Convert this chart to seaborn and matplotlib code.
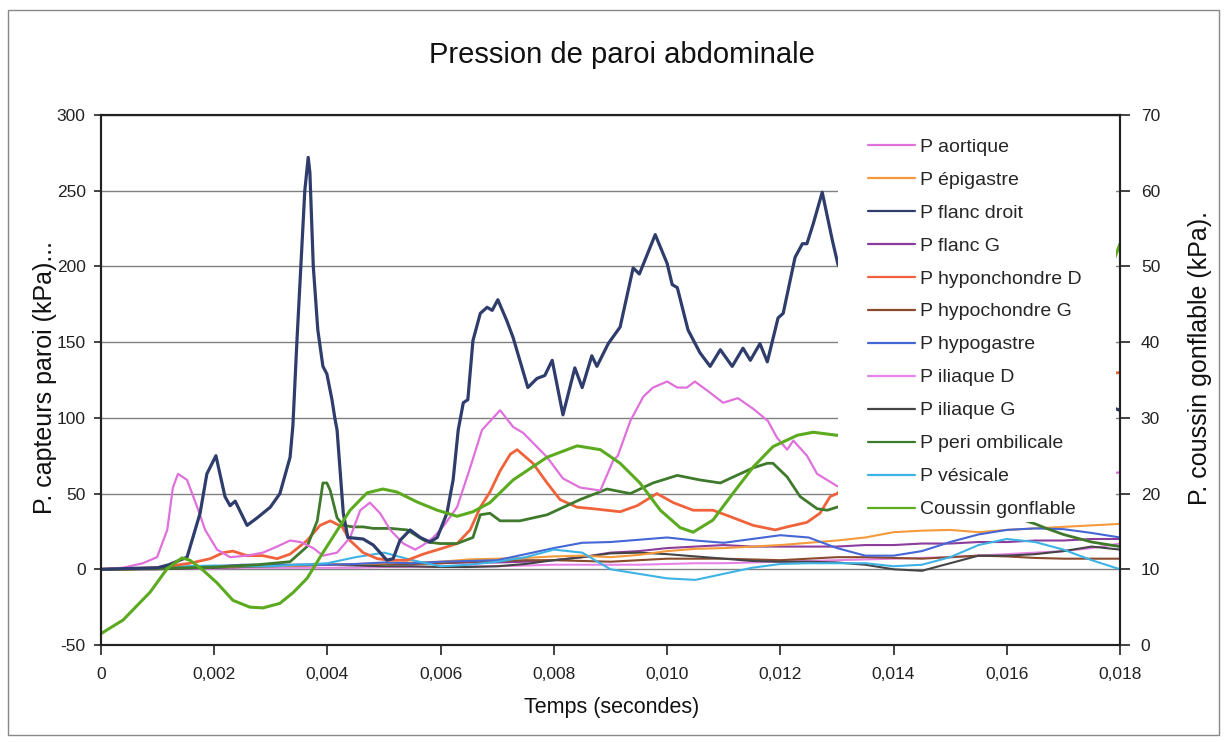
import numpy as np
import pandas as pd
import matplotlib
matplotlib.use("Agg")
import matplotlib.pyplot as plt
from matplotlib.lines import Line2D
from matplotlib.patches import Rectangle
from matplotlib.ticker import FixedLocator, FuncFormatter
import seaborn as sns

# ---- data (time in ms, pressure in kPa) ----
# common time grid for the low-amplitude sensors
t_grid_ms = [0, 0.5, 1, 1.5, 2, 2.5, 3, 3.5, 4, 4.5, 5, 5.5, 6, 6.5, 7, 7.5, 8, 8.5,
             9, 9.5, 10, 10.5, 11, 11.5, 12, 12.5, 13, 13.5, 14, 14.5, 15, 15.5,
             16, 16.5, 17, 17.5, 18]

p_epigastre = [0, 0, 0.5, 1, 1.5, 2, 2, 2.5, 3, 3.5, 4, 4.5, 5, 6.5, 7, 7.5, 8.5, 9,
               8, 9.5, 12, 13.5, 14, 15, 16, 17.5, 19, 21, 24.5, 25.5, 26, 24.5, 26,
               27, 28, 29, 30]
p_flanc_g = [0, 0.5, 1, 1.5, 2, 2, 2.5, 2.5, 3, 3, 3.5, 4, 4, 4.5, 4.5, 5, 6, 8, 11,
             12, 14, 15, 16, 15, 15, 15, 15, 16, 16, 17, 17, 18, 18, 19, 19, 20, 20]
p_hypochondre_g = [0, 0, 0.5, 1, 1.5, 2, 2.5, 3, 3, 3, 3.5, 3.5, 4, 5, 5.5, 6, 6, 5.5,
                   5, 6, 7, 7, 7, 6.5, 6, 7, 8, 8, 7.5, 7, 8, 9, 8.5, 7.5, 7, 7, 7]
p_hypogastre = [0, 0.5, 1, 1.5, 2, 3, 3, 3, 3, 3.5, 4.5, 4, 5, 5.5, 6, 10, 14, 17.5,
                18, 19.5, 21, 19, 17.5, 20, 22.5, 21, 14, 9, 9, 12, 18, 23, 26, 27,
                26.5, 24, 21]
p_iliaque_g = [0, 0, 0, 0.5, 1, 1.5, 2, 2.5, 3, 2.5, 2, 2, 1.5, 1.5, 2, 3.5, 6, 8,
               10.5, 11, 10, 8.5, 7, 5.5, 5, 5, 4.5, 3, 0, -1, 4, 9, 9, 10, 12, 15, 13]
p_vesicale = [0, 0.5, 1, 2, 2.5, 2, 2, 3, 4, 8, 11, 6, 2, 3, 5, 8, 13, 11, 0, -3,
              -6, -7, -3, 1, 3.5, 4, 4, 4, 2, 3, 8, 16, 20, 18, 13, 6, 0]
p_iliaque_d = [0, 0, 0, 0.5, 0.5, 1, 1, 1, 1, 1, 1.5, 1.5, 1.5, 2, 2, 2.5, 3, 3, 3,
               3, 3.5, 4, 4, 4.5, 5, 5.5, 6, 6.5, 7, 7.5, 8, 9, 10, 11, 12, 14, 17]

# high-amplitude sensors, own time points
t_flanc_droit_ms = [0, 1.0, 1.2, 1.52, 1.75, 1.87, 2.03, 2.19, 2.28, 2.37, 2.58, 2.76,
                    2.99, 3.16, 3.34, 3.39, 3.46, 3.53, 3.6, 3.66, 3.69, 3.75, 3.83,
                    3.92, 3.99, 4.08, 4.13, 4.17, 4.28, 4.36, 4.63, 4.81, 5.05, 5.16,
                    5.28, 5.46, 5.64, 5.81, 5.94, 6.11, 6.22, 6.31, 6.40, 6.48, 6.57,
                    6.70, 6.82, 6.91, 7.01, 7.17, 7.28, 7.54, 7.70, 7.84, 7.97, 8.16,
                    8.37, 8.50, 8.67, 8.76, 8.96, 9.17, 9.40, 9.51, 9.79, 10.0, 10.09,
                    10.18, 10.37, 10.58, 10.76, 10.94, 11.15, 11.34, 11.47, 11.64,
                    11.77, 11.96, 12.05, 12.26, 12.39, 12.47, 12.58, 12.74, 12.92,
                    13.02, 13.5, 14, 15, 16, 17, 18]
p_flanc_droit = [0, 1, 3, 8, 37, 63, 75, 48, 42, 45, 29, 34, 41, 50, 74, 95, 150, 200,
                 250, 272, 262, 200, 158, 134, 129, 112, 100, 92, 37, 21, 20, 16, 6, 7,
                 19, 26, 21, 18, 21, 37, 59, 92, 110, 112, 151, 169, 173, 171, 178, 164,
                 153, 120, 126, 128, 138, 102, 133, 120, 141, 134, 149, 160, 199, 195,
                 221, 202, 188, 186, 158, 143, 134, 145, 134, 146, 138, 149, 137, 166,
                 169, 206, 215, 215, 228, 249, 217, 201, 185, 170, 150, 135, 118, 105]

t_aortique_ms = [0, 0.39, 0.74, 0.99, 1.17, 1.27, 1.36, 1.52, 1.70, 1.84, 2.05, 2.28,
                 2.58, 2.86, 3.11, 3.34, 3.52, 3.75, 3.92, 4.17, 4.40, 4.58, 4.75, 4.93,
                 5.11, 5.34, 5.55, 5.69, 5.87, 6.04, 6.29, 6.52, 6.73, 7.05, 7.28, 7.46,
                 7.88, 8.16, 8.46, 8.82, 9.05, 9.13, 9.35, 9.58, 9.75, 10.0, 10.18,
                 10.35, 10.49, 10.71, 10.99, 11.25, 11.52, 11.78, 11.94, 12.12, 12.23,
                 12.47, 12.65, 13.0, 13.5, 14, 15, 16, 17, 18]
p_aortique = [0, 1, 4, 8, 26, 54, 63, 59, 41, 26, 13, 8, 9, 11, 15, 19, 18, 14, 9, 11,
              21, 39, 44, 37, 26, 17, 13, 16, 21, 28, 41, 67, 92, 105, 94, 90, 74, 60,
              54, 52, 72, 75, 98, 114, 120, 124, 120, 120, 124, 118, 110, 113, 106, 98,
              87, 79, 85, 75, 63, 55, 50, 48, 50, 55, 60, 64]

t_hyponchondre_d_ms = [0, 0.99, 1.57, 1.93, 2.16, 2.33, 2.58, 2.86, 3.11, 3.34, 3.64,
                       3.87, 4.05, 4.26, 4.40, 4.63, 4.88, 5.11, 5.41, 5.69, 6.04, 6.29,
                       6.52, 6.70, 6.87, 7.05, 7.23, 7.35, 7.63, 7.88, 8.11, 8.41, 8.69,
                       9.17, 9.47, 9.82, 10.11, 10.46, 10.81, 11.17, 11.52, 11.91, 12.12,
                       12.47, 12.70, 12.88, 13.0, 13.5, 14, 15, 16, 17, 18]
p_hyponchondre_d = [0, 1, 4, 7, 11, 12, 9, 9, 7, 10, 19, 29, 32, 28, 19, 11, 7, 6, 6,
                    10, 14, 17, 26, 41, 51, 65, 76, 79, 70, 57, 46, 41, 40, 38, 42, 50,
                    44, 39, 39, 34, 29, 26, 28, 31, 37, 48, 50, 65, 80, 100, 115, 125,
                    130]

t_peri_ombilicale_ms = [0, 1, 2, 2.76, 3.34, 3.64, 3.82, 3.92, 3.99, 4.05, 4.17, 4.28,
                        4.45, 4.63, 4.81, 5.11, 5.41, 5.58, 5.76, 5.99, 6.29, 6.57,
                        6.70, 6.87, 7.05, 7.40, 7.88, 8.46, 8.94, 9.35, 9.75, 10.18,
                        10.58, 10.94, 11.17, 11.52, 11.77, 11.87, 12.12, 12.35, 12.65,
                        12.83, 13.0, 13.5, 14, 15, 16, 16.5, 16.7, 17, 17.5, 18]
p_peri_ombilicale = [0, 0.5, 1.5, 3, 5, 15, 32, 57, 57, 52, 34, 29, 28, 28, 27, 27, 26,
                     22, 18, 17, 17, 21, 36, 37, 32, 32, 36, 46, 53, 50, 57, 62, 59, 57,
                     61, 67, 70, 70, 61, 48, 40, 39, 41, 45, 45, 40, 36, 30, 27, 23, 18,
                     15]

# airbag pressure, right axis
t_coussin_ms = [0, 0.39, 0.87, 1.17, 1.43, 1.57, 1.80, 2.05, 2.33, 2.63, 2.86, 3.16,
                3.39, 3.64, 3.87, 4.10, 4.40, 4.70, 4.98, 5.23, 5.58, 5.94, 6.29, 6.57,
                6.87, 7.28, 7.88, 8.41, 8.82, 9.17, 9.52, 9.88, 10.23, 10.46, 10.81,
                11.17, 11.52, 11.87, 12.30, 12.58, 13.0, 13.5, 14, 15, 16, 17, 17.8, 18]
p_coussin = [1.5, 3.3, 7.0, 10.1, 11.5, 11.2, 9.9, 8.2, 5.9, 5.0, 4.9, 5.5, 6.9, 8.8,
             11.6, 14.3, 17.8, 20.1, 20.6, 20.2, 18.9, 17.8, 17.0, 17.6, 18.8, 21.8,
             24.8, 26.3, 25.8, 24.0, 21.4, 17.8, 15.5, 14.9, 16.5, 20.1, 23.5, 26.2,
             27.7, 28.1, 27.7, 28, 29, 33, 39, 45, 49, 53]

labels = ["P aortique", "P épigastre", "P flanc droit", "P flanc G",
          "P hyponchondre D", "P hypochondre G", "P hypogastre", "P iliaque D",
          "P iliaque G", "P peri ombilicale", "P vésicale", "Coussin gonflable"]
colors = ["#E070DC", "#F49A3A", "#2F3D6C", "#8A3D9C", "#F0623A", "#8A4A2C",
          "#4466D6", "#E783E6", "#454545", "#3F7A2C", "#3DB3E5", "#5BAA1F"]
widths = [1.6, 1.5, 2.3, 1.5, 2.0, 1.5, 1.5, 1.5, 1.5, 2.0, 1.5, 2.2]

left_series = {
    "P iliaque D": (t_grid_ms, p_iliaque_d),
    "P flanc G": (t_grid_ms, p_flanc_g),
    "P hypochondre G": (t_grid_ms, p_hypochondre_g),
    "P iliaque G": (t_grid_ms, p_iliaque_g),
    "P épigastre": (t_grid_ms, p_epigastre),
    "P hypogastre": (t_grid_ms, p_hypogastre),
    "P vésicale": (t_grid_ms, p_vesicale),
    "P hyponchondre D": (t_hyponchondre_d_ms, p_hyponchondre_d),
    "P peri ombilicale": (t_peri_ombilicale_ms, p_peri_ombilicale),
    "P aortique": (t_aortique_ms, p_aortique),
    "P flanc droit": (t_flanc_droit_ms, p_flanc_droit),
}

rows = []
for name, (tt, pp) in left_series.items():
    for t, p in zip(tt, pp):
        rows.append({"temps": t / 1000.0, "pression": p, "capteur": name})
df = pd.DataFrame(rows)
df_coussin = pd.DataFrame({"temps": np.array(t_coussin_ms) / 1000.0,
                           "pression": p_coussin})

color_map = dict(zip(labels, colors))
width_map = dict(zip(labels, widths))

sns.set_theme(style="white")
plt.rcParams["font.family"] = ["Liberation Sans", "DejaVu Sans"]
plt.rcParams["axes.unicode_minus"] = False

fig = plt.figure(figsize=(12.27, 7.42), dpi=100)
ax = fig.add_axes([101 / 1227, 1 - 645 / 742, 1019 / 1227, 530 / 742])
ax2 = ax.twinx()

order = list(left_series.keys())
sns.lineplot(data=df, x="temps", y="pression", hue="capteur", hue_order=order,
             size="capteur", sizes=width_map, size_order=order,
             palette=color_map, estimator=None, sort=False, legend=False, ax=ax)
sns.lineplot(data=df_coussin, x="temps", y="pression", color=color_map["Coussin gonflable"],
             linewidth=width_map["Coussin gonflable"], estimator=None, sort=False, ax=ax2)

ax.set_xlim(0, 0.018)
ax.set_ylim(-50, 300)
ax2.set_ylim(0, 70)
ax.xaxis.set_major_locator(FixedLocator([i * 0.002 for i in range(10)]))
ax.xaxis.set_major_formatter(FuncFormatter(
    lambda v, _: "0" if abs(v) < 1e-9 else f"{v:.3f}".replace(".", ",")))
ax.set_yticks(range(-50, 301, 50))
ax2.set_yticks(range(0, 71, 10))

ax.yaxis.grid(True, color="#808080", linewidth=1.0)
ax.xaxis.grid(False)
ax.set_xlabel("")
ax.set_ylabel("")
ax2.set_ylabel("")

for a in (ax, ax2):
    for sp in a.spines.values():
        sp.set_color("#222222")
        sp.set_linewidth(1.5)
ax.tick_params(axis="y", direction="out", length=5, width=1.2, pad=6,
               labelsize=12.5, left=True, colors="#222222")
ax.tick_params(axis="x", direction="out", length=7, width=1.2, pad=9,
               labelsize=12.5, bottom=True, colors="#222222")
ax2.tick_params(axis="y", direction="out", length=7, width=1.2, pad=8,
                labelsize=12.5, right=True, colors="#222222")

# white legend block hides the lines behind it, as in the original
ax2.add_patch(Rectangle((737 / 1019, 123 / 530), 278 / 1019, 405 / 530,
                        transform=ax2.transAxes, facecolor="white",
                        edgecolor="none", zorder=5))
handles = [Line2D([], [], color=c, lw=1.6) for c in colors]
leg = ax2.legend(handles, labels, loc="upper left",
                 bbox_to_anchor=(767 / 1019, 507 / 530), frameon=False,
                 fontsize=14, handlelength=2.42, handletextpad=0.26,
                 labelspacing=0.79, borderpad=0, borderaxespad=0)
leg.set_zorder(6)

fig.text(622 / 1227, 1 - 55 / 742, "Pression de paroi abdominale",
         ha="center", va="center", fontsize=21, color="#111111")
fig.text(612 / 1227, 1 - 708 / 742, "Temps (secondes)",
         ha="center", va="center", fontsize=15.5, color="#111111")
fig.text(45 / 1227, 1 - 378 / 742, "P. capteurs paroi (kPa)...",
         ha="center", va="center", rotation=90, fontsize=18, color="#111111")
fig.text(1200 / 1227, 1 - 358 / 742, "P. coussin gonflable (kPa).",
         ha="center", va="center", rotation=90, fontsize=18, color="#111111")

# outer chart border
fig.add_artist(Rectangle((8 / 1227, 1 - 735 / 742), 1211 / 1227, 725 / 742,
                         transform=fig.transFigure, fill=False,
                         edgecolor="#888888", linewidth=1.0))

fig.savefig("out.png", dpi=100, facecolor="white")
